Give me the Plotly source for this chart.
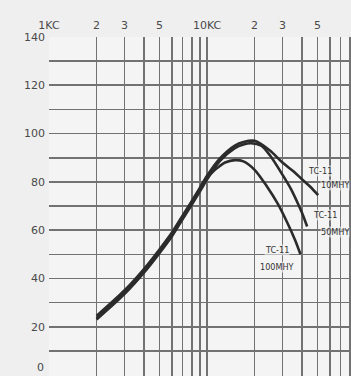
import plotly.graph_objects as go

# ---- data ----
x_tick_vals = [1000, 2000, 3000, 4000, 5000, 6000, 7000, 8000, 9000,
               10000, 20000, 30000, 40000, 50000, 60000, 70000, 80000]
x_tick_text = ["1KC", "2", "3", "", "5", "", "", "", "",
               "10KC", "2", "3", "", "5", "", "", ""]
y_tick_vals = [0, 10, 20, 30, 40, 50, 60, 70, 80, 90, 100, 110, 120, 130, 140]
y_tick_text = ["0", "", "20", "", "40", "", "60", "", "80", "", "100", "", "120", "", "140"]

f_10mhy = [2000, 3000, 4000, 5000, 6000, 7000, 8000, 9000, 10000, 12000, 15000,
           17000, 20000, 25000, 30000, 35000, 40000, 45000, 50500]
v_10mhy = [24.5, 35, 44, 52, 59, 66, 72, 77.5, 82.5, 89.5, 95,
           96.5, 97, 93, 88, 84.5, 81, 78, 74.5]

f_50mhy = [2000, 3000, 4000, 5000, 6000, 7000, 8000, 9000, 10000, 12000, 15000,
           17000, 19000, 22000, 25000, 30000, 34000, 37000, 40000, 43000]
v_50mhy = [23, 33.5, 42.5, 50.5, 57.5, 64.5, 70.5, 76, 81, 88.5, 94,
           95.5, 96, 95, 91, 83, 77, 72, 67, 61.5]

f_100mhy = [2000, 3000, 4000, 5000, 6000, 7000, 8000, 9000, 10000, 11000, 12000,
            13000, 15000, 17000, 20000, 24000, 28000, 32000, 36000, 39000]
v_100mhy = [23.5, 34, 43, 51, 58, 65, 71, 76.5, 81.5, 84.5, 86.5,
            88, 89, 88.5, 85, 78, 71, 63.5, 56, 50]

series = [("TC-11 10MHY", f_10mhy, v_10mhy),
          ("TC-11 50MHY", f_50mhy, v_50mhy),
          ("TC-11 100MHY", f_100mhy, v_100mhy)]

fig = go.Figure()
for name, fx, vy in series:
    fig.add_trace(go.Scatter(x=fx, y=vy, mode="lines", name=name,
                             line=dict(color="#2b2b2b", width=2.6, shape="spline", smoothing=0.8),
                             hoverinfo="skip"))

lab_font = dict(family="DejaVu Sans Condensed, DejaVu Sans, sans-serif", size=9, color="#333333")
labels = [
    ("TC-11", 307, 171, "left"), ("10MHY", 350, 185, "right"),
    ("TC-11", 312, 215, "left"), ("50MHY", 350, 232, "right"),
    ("TC-11", 277, 250, "center"), ("100MHY", 277, 267, "center"),
]
for txt, px, py, anc in labels:
    fig.add_annotation(xref="paper", yref="paper",
                       x=(px - 49) / (351 - 49), y=1 - (py - 37) / (376 - 37),
                       text=txt, showarrow=False, xanchor=anc, yanchor="middle",
                       font=lab_font, bgcolor="rgba(244,244,244,0.6)", borderpad=0)

tick_font = dict(family="DejaVu Sans, sans-serif", size=11, color="#4a4a4a")

# the bottom "0" tick label sits at the page edge: draw it as a text just inside the frame
axis_text = list(y_tick_text)
zero_label = axis_text[0]
axis_text[0] = ""
fig.add_annotation(xref="paper", yref="paper", x=0, y=0, xshift=-3,
                   text=zero_label, showarrow=False, xanchor="right", yanchor="bottom",
                   font=tick_font)

fig.update_layout(
    width=351, height=376,
    margin=dict(l=49, r=0, t=37, b=0, autoexpand=False),
    paper_bgcolor="#efefef", plot_bgcolor="#f4f4f4",
    showlegend=False,
    xaxis=dict(type="log", range=[3, 4.911], side="top", automargin=False,
               tickmode="array", tickvals=x_tick_vals, ticktext=x_tick_text,
               showgrid=True, gridcolor="#727272", gridwidth=1.6,
               zeroline=False, showline=False, ticks="", ticklabelstandoff=5,
               ticklabeloverflow="allow", tickfont=tick_font),
    yaxis=dict(range=[-0.4, 140], automargin=False,
               tickmode="array", tickvals=y_tick_vals, ticktext=axis_text,
               showgrid=True, gridcolor="#727272", gridwidth=1.6,
               zeroline=False, showline=False, ticks="", ticklabelstandoff=3,
               ticklabeloverflow="allow", tickfont=tick_font),
)

fig.write_html("out.html",
               config={"displayModeBar": False, "staticPlot": True},
               post_script="document.body.style.margin='0';document.body.style.padding='0';"
                           "document.body.style.background='#efefef';"
                           "document.documentElement.style.overflow='hidden';")
